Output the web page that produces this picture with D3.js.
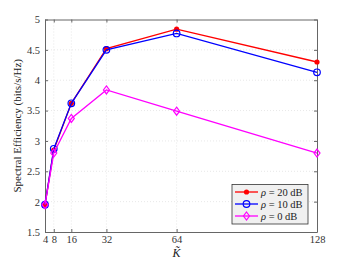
<!DOCTYPE html>
<html>
<head>
<meta charset="utf-8">
<script src="https://cdn.jsdelivr.net/npm/d3@7"></script>
<style>
  body { margin: 0; background: #fff; }
  text { font-family: "Liberation Serif", "Times New Roman", serif; }
</style>
</head>
<body>
<div id="chart"></div>
<script>
// data
var kValues = [4, 8, 16, 32, 64, 128];
var se20 = [1.95, 2.85, 3.62, 4.52, 4.84, 4.30];
var se10 = [1.95, 2.87, 3.62, 4.50, 4.77, 4.13];
var se0 = [1.95, 2.80, 3.37, 3.84, 3.49, 2.80];
var xTicks = [4, 8, 16, 32, 64, 128];
var yTicks = [1.5, 2, 2.5, 3, 3.5, 4, 4.5, 5];
var seriesNames = ["20", "10", "0"];

var margin = {top: 19.5, right: 33, bottom: 31, left: 45},
  width = 350 - margin.left - margin.right,
  height = 263 - margin.top - margin.bottom;

var svg = d3.select("#chart")
  .append("svg")
  .attr("width", 350)
  .attr("height", 263)
  .append("g")
  .attr("transform", "translate(" + margin.left + "," + margin.top + ")");

var x = d3.scaleLinear().domain([4, 128]).range([0, width]);
var y = d3.scaleLinear().domain([1.5, 5]).range([height, 0]);

// grid
svg.append("g").selectAll("line").data(xTicks.slice(1, -1)).enter().append("line")
  .attr("x1", function(d) { return x(d); }).attr("x2", function(d) { return x(d); })
  .attr("y1", 0).attr("y2", height)
  .attr("stroke", "#ddd").attr("stroke-dasharray", "1,2").attr("stroke-width", 0.7);
svg.append("g").selectAll("line").data(yTicks.slice(1, -1)).enter().append("line")
  .attr("y1", function(d) { return y(d); }).attr("y2", function(d) { return y(d); })
  .attr("x1", 0).attr("x2", width)
  .attr("stroke", "#ddd").attr("stroke-dasharray", "1,2").attr("stroke-width", 0.7);

// axes, ticks inward
var xAxis = svg.append("g")
  .attr("transform", "translate(0," + height + ")")
  .call(d3.axisBottom(x).tickValues(xTicks).tickSize(-3).tickPadding(4).tickSizeOuter(0));
var yAxis = svg.append("g")
  .call(d3.axisLeft(y).tickValues(yTicks).tickFormat(d3.format("")).tickSize(-3).tickPadding(5).tickSizeOuter(0));
svg.append("g")
  .call(d3.axisTop(x).tickValues(xTicks).tickSize(-3).tickFormat("").tickSizeOuter(0));
svg.append("g")
  .attr("transform", "translate(" + width + ",0)")
  .call(d3.axisRight(y).tickValues(yTicks).tickSize(-3).tickFormat("").tickSizeOuter(0));
svg.selectAll(".domain").attr("stroke", "#666");
svg.selectAll(".tick line").attr("stroke", "#666");
svg.selectAll(".tick text").attr("fill", "#333").style("font-size", "10.5px")
  .style("font-family", "'Liberation Serif', serif");

// lines
var line = d3.line()
  .x(function(d, i) { return x(kValues[i]); })
  .y(function(d) { return y(d); });

var series = [
  {vals: se20, color: "#ff0000", marker: "dot"},
  {vals: se10, color: "#0000ff", marker: "circle"},
  {vals: se0, color: "#ff00ff", marker: "diamond"}
];

function drawMarker(g, kind, color, cx, cy) {
  if (kind == "dot") {
    g.append("circle").attr("cx", cx).attr("cy", cy).attr("r", 2.6).attr("fill", color);
  } else if (kind == "circle") {
    g.append("circle").attr("cx", cx).attr("cy", cy).attr("r", 3.3)
      .attr("fill", "none").attr("stroke", color).attr("stroke-width", 1.2);
  } else {
    g.append("path")
      .attr("d", "M" + cx + "," + (cy - 4) + "L" + (cx + 3) + "," + cy + "L" + cx + "," + (cy + 4) + "L" + (cx - 3) + "," + cy + "Z")
      .attr("fill", "none").attr("stroke", color).attr("stroke-width", 1.2);
  }
}

series.forEach(function(s) {
  svg.append("path")
    .datum(s.vals)
    .attr("fill", "none")
    .attr("stroke", s.color)
    .attr("stroke-width", 1.3)
    .attr("d", line);
  var g = svg.append("g");
  s.vals.forEach(function(v, i) {
    drawMarker(g, s.marker, s.color, x(kValues[i]), y(v));
  });
});

// axis labels
svg.append("text")
  .attr("transform", "translate(-24," + (height / 2) + ") rotate(-90)")
  .attr("text-anchor", "middle")
  .style("font-size", "11px")
  .attr("fill", "#222")
  .text("Spectral Efficiency (bits/s/Hz)");

var kLab = svg.append("text")
  .attr("x", x(64))
  .attr("y", height + 25)
  .attr("text-anchor", "middle")
  .style("font-size", "12px")
  .style("font-style", "italic")
  .attr("fill", "#222")
  .text("K\u0303");

// legend
var lg = svg.append("g").attr("transform", "translate(" + (232 - margin.left) + "," + (184.5 - margin.top) + ")");
lg.append("rect").attr("width", 76).attr("height", 39.5)
  .attr("fill", "#f0f0f0").attr("stroke", "#333").attr("stroke-width", 0.8);
series.forEach(function(s, i) {
  var yy = 7.5 + i * 12;
  lg.append("line").attr("x1", 3).attr("x2", 26).attr("y1", yy).attr("y2", yy)
    .attr("stroke", s.color).attr("stroke-width", 1.3);
  drawMarker(lg, s.marker, s.color, 14.5, yy);
  var t = lg.append("text").attr("x", 29).attr("y", yy + 3.5)
    .style("font-size", "10.5px").attr("fill", "#222");
  t.append("tspan").style("font-style", "italic").text("\u03c1");
  t.append("tspan").text(" = " + seriesNames[i] + " dB");
});
</script>
</body>
</html>
